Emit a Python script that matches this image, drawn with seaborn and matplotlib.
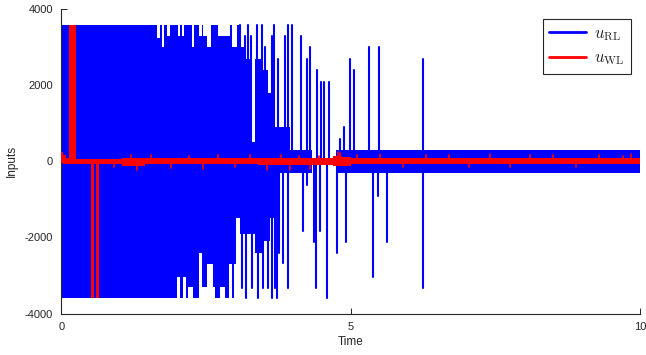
import numpy as np
import pandas as pd
import matplotlib
matplotlib.use("Agg")
import matplotlib.pyplot as plt
from matplotlib.lines import Line2D
import seaborn as sns

# ---------------- data ----------------
# Dense part of u_RL: upper / lower envelope (step-wise, value holds until next t)
dense_top_t = [0.00, 1.65, 1.70, 1.74, 1.77, 1.82, 1.87, 2.01, 2.05, 2.08, 2.12, 2.26, 2.29,
               2.38, 2.43, 2.45, 2.52, 2.58, 2.71, 2.91, 2.95, 3.04, 3.08, 3.15, 3.29, 3.35,
               3.47, 3.57, 3.65, 3.95, 4.33]
dense_top_v = [3600, 3250, 3600, 3000, 3600, 3300, 3600, 3300, 3600, 3300, 3600, 3000, 3600,
               3300, 3600, 3300, 3000, 3600, 3300, 3600, 3000, 3600, 3000, 2700, 500, 2700,
               2400, 1800, 900, 300, 0]
dense_bot_t = [0.00, 1.99, 2.04, 2.10, 2.16, 2.19, 2.27, 2.38, 2.43, 2.52, 2.62, 2.65, 2.74,
               2.83, 2.89, 2.95, 2.99, 3.01, 3.09, 3.34, 3.47, 3.60, 3.71, 4.33]
dense_bot_v = [-3600, -3050, -3600, -3050, -3600, -3300, -3600, -2400, -3300, -2700, -3300,
               -3600, -3300, -3600, -2700, -3600, -2700, -1500, -1900, -2400, -2100, -1500,
               -300, 0]
# Steady band of u_RL after the transient
band_t = [4.74, 10.0]
band_hi = [310, 310]
band_lo = [-310, -310]
# Isolated spikes of u_RL
blue_up_t = [3.09, 3.18, 3.22, 3.28, 3.38, 3.47, 3.52, 3.64, 3.67, 3.74, 3.86, 3.91, 3.98,
             4.14, 4.24, 4.29, 4.42, 4.49, 4.54, 4.62, 4.81, 4.88, 4.99, 5.06, 5.32, 5.49, 6.25]
blue_up_v = [3600, 3300, 3600, 3300, 3600, 3600, 3000, 3300, 3600, 2700, 3300, 3600, 3600,
             3300, 2700, 3000, 2400, 2080, 2080, 2080, 600, 900, 2700, 2400, 3000, 3000, 2700]
blue_dn_t = [3.12, 3.19, 3.29, 3.40, 3.48, 3.57, 3.64, 3.69, 3.72, 3.76, 3.83, 3.91, 4.17,
             4.24, 4.37, 4.40, 4.47, 4.59, 4.76, 4.91, 5.38, 5.47, 5.63, 6.25]
blue_dn_v = [-3320, -3600, -3320, -3600, -3320, -3320, -3600, -3320, -3600, -2400, -2680,
             -3320, -1820, -630, -2130, -3320, -1820, -3600, -2420, -2130, -3030, -920,
             -2130, -3340]

# u_WL: noise band envelope (with the two saturated bursts) and small spikes
red_t  = [0.00, 0.03, 0.07, 0.13, 0.245, 0.51, 0.56, 0.60, 0.65, 1.05, 1.45, 3.40, 4.00,
          4.70, 4.85, 5.00, 10.0]
red_hi = [250, 180, 90, 3600, 70, 60, 60, 60, 70, 100, 80, 90, 90, 150, 120, 80, 80]
red_lo = [-40, -60, -60, -60, -70, -3600, -80, -3600, -80, -110, -80, -90, -100, -110,
          -110, -80, -80]
red_spk_t = [0.9, 1.2, 1.3, 1.55, 1.9, 2.2, 2.45, 2.7, 3.0, 3.25, 3.55, 3.8, 3.95, 4.1,
             4.3, 4.45, 4.78, 4.82, 5.1, 5.5, 5.9, 6.3, 6.7, 7.05, 7.4, 7.75, 8.1, 8.5,
             8.9, 9.3, 9.7, 9.85]
red_spk_v = [-160, 170, -230, 160, -170, 150, -200, 170, -160, 180, -220, 160, -230, 150,
             -200, 140, 260, 230, 170, 190, -150, 160, 180, -150, 190, -160, 170, 160,
             -150, 170, 150, 200]

x_ticks = [0, 5, 10]
y_ticks = [-4000, -2000, 0, 2000, 4000]
labels = [r"$u_{\mathrm{RL}}$", r"$u_{\mathrm{WL}}$"]

# ---------------- style ----------------
sns.set_theme(style="white")
plt.rcParams["font.family"] = ["Liberation Sans", "DejaVu Sans"]
plt.rcParams["mathtext.fontset"] = "cm"

BLUE = "#0000ff"
RED = "#ff0000"
AX = "#262626"

fig = plt.figure(figsize=(6.46, 3.55), dpi=100)
ax = fig.add_axes([0.0952, 0.1169, 0.8955, 0.8569])

# blue dense region
ax.fill_between(dense_top_t, 0, dense_top_v, step="post", color=BLUE, lw=0)
ax.fill_between(dense_bot_t, dense_bot_v, 0, step="post", color=BLUE, lw=0)
ax.fill_between(band_t, band_lo, band_hi, color=BLUE, lw=0)

spk_rows = []
for i, (t, v) in enumerate(zip(blue_up_t + blue_dn_t, blue_up_v + blue_dn_v)):
    spk_rows.append({"t": t, "u": 0, "id": i})
    spk_rows.append({"t": t, "u": v, "id": i})
blue_df = pd.DataFrame(spk_rows)
sns.lineplot(data=blue_df, x="t", y="u", units="id", estimator=None, sort=False,
             color=BLUE, lw=1.5, ax=ax, legend=False)

# red
ax.fill_between(red_t, red_lo, red_hi, step="post", color=RED, lw=0, zorder=3)
red_rows = []
for i, (t, v) in enumerate(zip(red_spk_t, red_spk_v)):
    red_rows.append({"t": t, "u": 0, "id": i})
    red_rows.append({"t": t, "u": v, "id": i})
red_df = pd.DataFrame(red_rows)
sns.lineplot(data=red_df, x="t", y="u", units="id", estimator=None, sort=False,
             color=RED, lw=1.2, ax=ax, legend=False, zorder=3)

# axes
ax.set_xlim(0, 10)
ax.set_ylim(-4000, 4000)
ax.set_xticks(x_ticks)
ax.set_yticks(y_ticks)
ax.set_xticklabels([str(v) for v in x_ticks])
ax.set_yticklabels([str(v) for v in y_ticks])
sns.despine(ax=ax, top=True, right=True)
for s in ["left", "bottom"]:
    ax.spines[s].set_color(AX)
    ax.spines[s].set_linewidth(0.8)
ax.tick_params(direction="in", length=4, width=0.7, color=AX, labelcolor=AX,
               labelsize=8, pad=6)
ax.tick_params(axis="both", which="both", bottom=True, left=True)
ax.set_xlabel("Time", fontsize=8.5, color=AX, labelpad=3)
ax.set_ylabel("Inputs", fontsize=8.5, color=AX, labelpad=5)

handles = [Line2D([], [], color=BLUE, lw=2), Line2D([], [], color=RED, lw=2)]
leg = ax.legend(handles, labels, loc="upper right", bbox_to_anchor=(0.985, 0.967),
                fontsize=12, frameon=True, fancybox=False, framealpha=1,
                edgecolor="#262626", handlelength=2.2, labelspacing=0.45,
                borderpad=0.4, handletextpad=0.5, borderaxespad=0)
leg.get_frame().set_linewidth(0.8)

fig.savefig("out.png", dpi=100)
